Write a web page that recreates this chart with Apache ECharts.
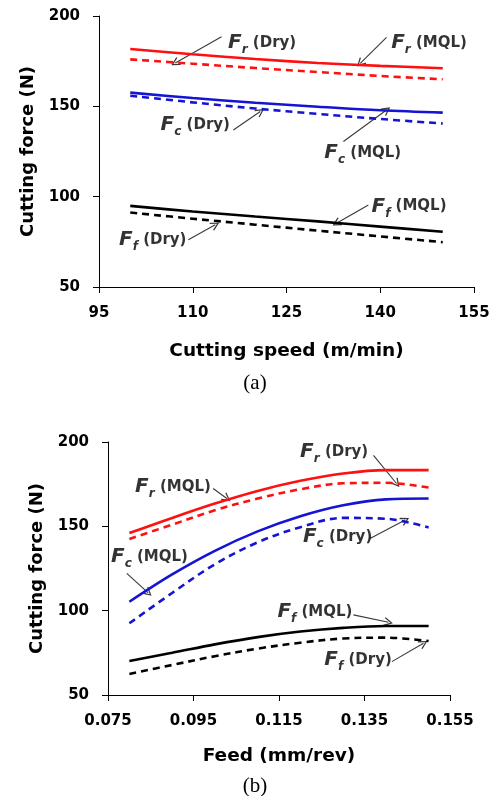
<!DOCTYPE html>
<html>
<head>
<meta charset="utf-8">
<script src="https://cdn.jsdelivr.net/npm/echarts@6/dist/echarts.min.js"></script>
<style>
  html, body { margin: 0; padding: 0; background: #ffffff; }
  #grafica { width: 497px; height: 796px; }
</style>
</head>
<body>
<div id="grafica"></div>
<script>
// ── Datos (a): velocidad de corte ────────────────────────────────────────
const velocidad = [100, 110, 120, 130, 140, 150];
const frMqlA = [181.7, 178.8, 176.2, 174.0, 172.4, 171.1];
const frDryA = [176.0, 173.6, 171.2, 169.0, 166.8, 165.0];
const fcMqlA = [157.6, 154.6, 152.0, 149.8, 147.8, 146.5];
const fcDryA = [155.9, 152.2, 148.8, 145.8, 143.0, 140.5];
const ffMqlA = [94.9, 91.8, 89.0, 86.3, 83.4, 80.6];
const ffDryA = [91.2, 87.8, 84.5, 81.2, 78.0, 74.8];
const ticksVelocidad = [95, 110, 125, 140, 155];

// ── Datos (b): avance ────────────────────────────────────────────────────
const avance = [0.08, 0.09, 0.10, 0.11, 0.12, 0.13, 0.14, 0.15];
const frMqlB = [146.0, 155.0, 163.5, 171.0, 177.0, 181.3, 183.3, 183.3];
const frDryB = [142.5, 151.0, 159.5, 166.5, 172.0, 175.5, 175.8, 173.0];
const fcMqlB = [105.3, 121.5, 135.5, 147.0, 156.0, 162.5, 166.0, 166.5];
const fcDryB = [92.5, 110.5, 127.5, 140.5, 149.5, 155.0, 154.5, 149.3];
const ffMqlB = [70.2, 75.0, 80.0, 84.3, 87.6, 89.8, 90.9, 90.9];
const ffDryB = [62.5, 67.8, 73.0, 77.5, 81.0, 83.5, 84.0, 82.0];
const ticksAvance = [0.075, 0.095, 0.115, 0.135, 0.155];

// ── Anotaciones: [subíndice, condición, posición texto, inicio flecha, punta flecha]
const notasA = [
   ["r", "Dry", [121.1, 185.1], [114.6, 188.5], [107.2, 174.0]],
   ["r", "MQL", [147.8, 185.1], [141.0, 188.2], [136.8, 173.8]],
   ["c", "Dry", [110.4, 139.7], [116.5, 136.9], [120.8, 147.1]],
   ["c", "MQL", [137.2, 124.2], [134.1, 130.5], [141.0, 148.0]],
   ["f", "MQL", [144.6, 94.5], [138.1, 95.4], [133.0, 85.3]],
   ["f", "Dry", [103.6, 76.1], [109.3, 76.1], [113.6, 84.4]]
];
const notasB = [
   ["r", "Dry", [0.1279, 193.9], [0.1371, 192.1], [0.1425, 175.4]],
   ["r", "MQL", [0.0902, 173.2], [0.0996, 172.4], [0.1028, 166.5]],
   ["c", "Dry", [0.1287, 143.6], [0.1363, 142.8], [0.1445, 153.7]],
   ["c", "MQL", [0.0847, 132.0], [0.0794, 122.1], [0.0844, 110.6]],
   ["f", "MQL", [0.1234, 99.4], [0.1324, 97.5], [0.1406, 93.1]],
   ["f", "Dry", [0.1335, 70.8], [0.1414, 69.8], [0.1488, 80.7]]
];

const colores = { rojo: "#ff1010", azul: "#1414d2", negro: "#000000", flecha: "#3a3a3a" };
const fuente = "'DejaVu Sans', sans-serif";

// punta de flecha abierta (tipo "V")
const puntaAbierta = "path://M0,0L6,10L4.6,11L0,3L-4.6,11L-6,10Z";

const ejeX = (indice, minimo, maximo, ticks, nombre, decimales, separacion) => ({
   type: "value",
   gridIndex: indice,
   min: minimo,
   max: maximo,
   name: nombre,
   nameLocation: "middle",
   nameGap: separacion,
   nameTextStyle: { fontFamily: fuente, fontWeight: "bold", fontSize: 18.5, color: "#000" },
   splitLine: { show: false },
   axisLine: { lineStyle: { color: "#000", width: 1 } },
   axisTick: { inside: false, length: 6, lineStyle: { color: "#000" }, customValues: ticks },
   axisLabel: {
      customValues: ticks,
      margin: 19,
      fontFamily: fuente, fontWeight: "bold", fontSize: 15, color: "#000",
      formatter: v => v.toFixed(decimales)
   }
});

const ejeY = (indice) => ({
   type: "value",
   gridIndex: indice,
   min: 50,
   max: 200,
   interval: 50,
   name: "Cutting force (N)",
   nameLocation: "middle",
   nameGap: 59,
   nameTextStyle: { fontFamily: fuente, fontWeight: "bold", fontSize: 18, color: "#000" },
   splitLine: { show: false },
   axisLine: { show: true, lineStyle: { color: "#000", width: 1 } },
   axisTick: { show: true, inside: false, length: 6, lineStyle: { color: "#000" } },
   axisLabel: { margin: 19, fontFamily: fuente, fontWeight: "bold", fontSize: 15, color: "#000" }
});

const serieCurva = (indice, xs, ys, color, punteada) => ({
   type: "line",
   xAxisIndex: indice,
   yAxisIndex: indice,
   data: xs.map((x, i) => [x, ys[i]]),
   smooth: 0.35,
   showSymbol: false,
   symbol: "none",
   silent: true,
   lineStyle: { color: color, width: 2.6, type: punteada ? [7, 5] : "solid" }
});

const richNota = {
   F: { fontFamily: fuente, fontStyle: "italic", fontWeight: "bold", fontSize: 20, lineHeight: 26, color: "#000" },
   s: { fontFamily: fuente, fontStyle: "italic", fontWeight: "bold", fontSize: 12, lineHeight: 14, verticalAlign: "bottom", color: "#000" },
   t: { fontFamily: fuente, fontWeight: "bold", fontSize: 15, lineHeight: 26, color: "#000" }
};

const serieTextos = (indice, notas) => ({
   type: "scatter",
   xAxisIndex: indice,
   yAxisIndex: indice,
   symbolSize: 0,
   silent: true,
   data: notas.map(n => ({
      value: n[2],
      label: {
         show: true,
         position: "inside",
         formatter: `{F|F}{s|${n[0]}}{t| (${n[1]})}`,
         rich: richNota
      }
   }))
});

const serieFlechas = (indice, notas) => ({
   type: "lines",
   coordinateSystem: "cartesian2d",
   xAxisIndex: indice,
   yAxisIndex: indice,
   silent: true,
   symbol: ["none", puntaAbierta],
   symbolSize: [9, 9],
   lineStyle: { color: colores.flecha, width: 1.1, opacity: 1 },
   itemStyle: { color: colores.flecha },
   data: notas.map(n => ({ coords: [n[3], n[4]] }))
});

const grafica = echarts.init(document.getElementById("grafica"), null, { renderer: "canvas" });

grafica.setOption({
   backgroundColor: "#ffffff",
   animation: false,
   title: [
      { text: "(a)", left: 250, top: 368, textAlign: "center",
        textStyle: { fontFamily: "'Liberation Serif', serif", fontWeight: "normal", fontSize: 21, color: "#000" } },
      { text: "(b)", left: 250, top: 771, textAlign: "center",
        textStyle: { fontFamily: "'Liberation Serif', serif", fontWeight: "normal", fontSize: 21, color: "#000" } }
   ],
   grid: [
      { left: 99, top: 16, width: 375, height: 271 },
      { left: 108, top: 442, width: 342, height: 253 }
   ],
   xAxis: [
      ejeX(0, 95, 155, ticksVelocidad, "Cutting speed (m/min)", 0, 55),
      ejeX(1, 0.075, 0.155, ticksAvance, "Feed (mm/rev)", 3, 52)
   ],
   yAxis: [ejeY(0), ejeY(1)],
   series: [
      serieCurva(0, velocidad, frMqlA, colores.rojo, false),
      serieCurva(0, velocidad, frDryA, colores.rojo, true),
      serieCurva(0, velocidad, fcMqlA, colores.azul, false),
      serieCurva(0, velocidad, fcDryA, colores.azul, true),
      serieCurva(0, velocidad, ffMqlA, colores.negro, false),
      serieCurva(0, velocidad, ffDryA, colores.negro, true),
      serieCurva(1, avance, frMqlB, colores.rojo, false),
      serieCurva(1, avance, frDryB, colores.rojo, true),
      serieCurva(1, avance, fcMqlB, colores.azul, false),
      serieCurva(1, avance, fcDryB, colores.azul, true),
      serieCurva(1, avance, ffMqlB, colores.negro, false),
      serieCurva(1, avance, ffDryB, colores.negro, true),
      serieFlechas(0, notasA),
      serieFlechas(1, notasB),
      serieTextos(0, notasA),
      serieTextos(1, notasB)
   ]
});
</script>
</body>
</html>
